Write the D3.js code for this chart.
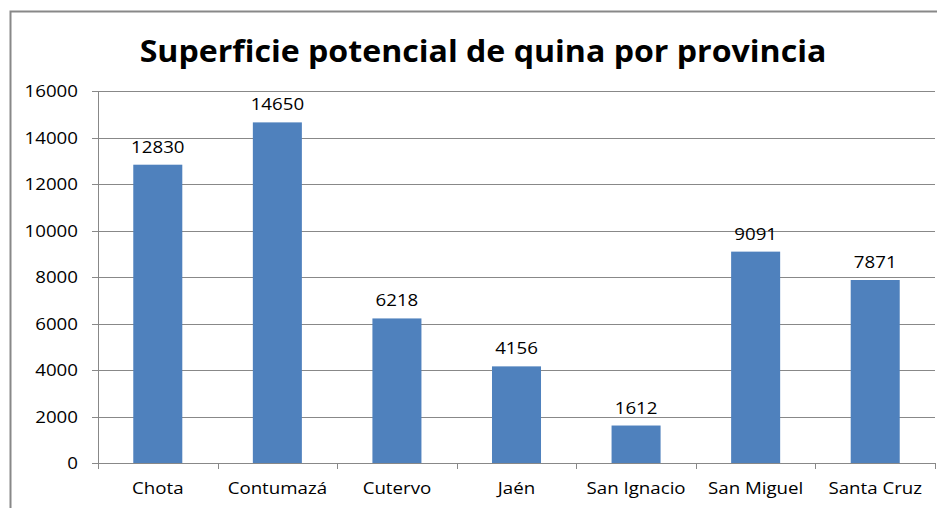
<!DOCTYPE html>
<html>
<head>
<meta charset="utf-8">
<script src="https://cdn.jsdelivr.net/npm/d3@7"></script>
<style>
  body { margin: 0; background: #fff; }
  text { font-family: "Open Sans", sans-serif; }
</style>
</head>
<body>
<script>
  // datos
  const provincias = ["Chota", "Contumazá", "Cutervo", "Jaén", "San Ignacio", "San Miguel", "Santa Cruz"];
  const superficie = [12830, 14650, 6218, 4156, 1612, 9091, 7871];
  const yTicks = [0, 2000, 4000, 6000, 8000, 10000, 12000, 14000, 16000];

  const width = 946, height = 508;
  const marge = { top: 91, bottom: 45, left: 98, right: 11 };
  const stretch = 1.1; // el texto original es algo mas ancho

  const svg = d3.select("body").append("svg")
    .attr("width", width)
    .attr("height", height);

  // borde del grafico
  svg.append("path")
    .attr("d", `M10.5,${height} V11.5 H937`)
    .attr("fill", "none")
    .attr("stroke", "#888")
    .attr("stroke-width", 2);

  const title = svg.append("text")
    .attr("x", 483)
    .attr("y", 62)
    .attr("text-anchor", "middle")
    .attr("font-size", 31)
    .attr("font-weight", "bold")
    .text("Superficie potencial de quina por provincia");
  // ajustar al ancho del titulo original (~687px)
  const tl = title.node().getComputedTextLength();
  title.attr("transform", `translate(483,0) scale(${687 / tl},1) translate(-483,0)`);

  const x = d3.scaleBand()
    .domain(provincias)
    .range([marge.left, width - marge.right]);

  const y = d3.scaleLinear()
    .domain([0, 16000])
    .range([height - marge.bottom, marge.top]);

  // lineas de cuadricula
  svg.append("g")
    .selectAll("line")
    .data(yTicks)
    .enter()
    .append("line")
    .attr("x1", marge.left - 6)
    .attr("x2", width - marge.right)
    .attr("y1", d => Math.round(y(d)) + 0.5)
    .attr("y2", d => Math.round(y(d)) + 0.5)
    .attr("stroke", "#888");

  // eje y
  svg.append("line")
    .attr("x1", marge.left + 0.5).attr("x2", marge.left + 0.5)
    .attr("y1", marge.top).attr("y2", y(0))
    .attr("stroke", "#888");

  svg.append("g")
    .selectAll("text")
    .data(yTicks)
    .enter()
    .append("text")
    .attr("transform", d => `translate(${marge.left - 20},${y(d) + 6}) scale(${stretch},1)`)
    .attr("text-anchor", "end")
    .attr("font-size", 17)
    .attr("fill", "#000")
    .text(d => d);

  // barras
  const barW = x.bandwidth() * 0.41;
  svg.append("g")
    .selectAll("rect")
    .data(provincias)
    .enter()
    .append("rect")
    .attr("x", (d) => x(d) + (x.bandwidth() - barW) / 2)
    .attr("y", (d, i) => y(superficie[i]))
    .attr("width", barW)
    .attr("height", (d, i) => y(0) - y(superficie[i]))
    .attr("fill", "#4f81bd");

  svg.append("g")
    .selectAll("text")
    .data(provincias)
    .enter()
    .append("text")
    .attr("transform", (d, i) => `translate(${x(d) + x.bandwidth() / 2},${y(superficie[i]) - 12}) scale(${stretch},1)`)
    .attr("text-anchor", "middle")
    .attr("font-size", 17)
    .text((d, i) => superficie[i]);

  // eje x
  const xAxis = svg.append("g");
  xAxis.append("line")
    .attr("x1", marge.left).attr("x2", width - marge.right)
    .attr("y1", Math.round(y(0)) + 0.5).attr("y2", Math.round(y(0)) + 0.5)
    .attr("stroke", "#888");
  xAxis.selectAll(".tk")
    .data(provincias.concat([null]))
    .enter()
    .append("line")
    .attr("x1", (d, i) => Math.round(marge.left + i * x.step()) + 0.5)
    .attr("x2", (d, i) => Math.round(marge.left + i * x.step()) + 0.5)
    .attr("y1", y(0))
    .attr("y2", y(0) + 6)
    .attr("stroke", "#888");
  xAxis.selectAll("text")
    .data(provincias)
    .enter()
    .append("text")
    .attr("transform", d => `translate(${x(d) + x.bandwidth() / 2},494) scale(${stretch},1)`)
    .attr("text-anchor", "middle")
    .attr("font-size", 17)
    .text(d => d);
</script>
</body>
</html>
